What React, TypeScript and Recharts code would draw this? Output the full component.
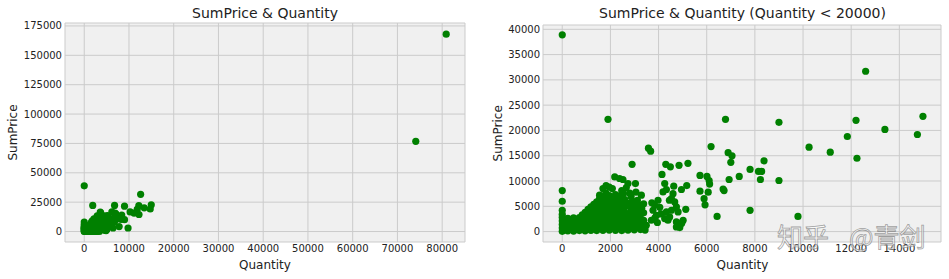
import { ScatterChart, Scatter, XAxis, YAxis, CartesianGrid } from 'recharts'

type Row = [number, number]

// [Quantity, SumPrice] pairs, grouped by area of the cloud
const zeroQuantity: Row[] = [
  [0, 50], [0, 700], [0, 1400], [0, 2100], [0, 2800], [0, 3400], [0, 4200], [0, 6000], [0, 8100], [0, 38900],
]

const lowQuantity: Row[] = [
  [110, 350], [110, 1250], [110, 2150],
  [230, 150], [230, 900], [230, 1800], [230, 2600],
  [350, 500], [350, 1400], [350, 2300],
  [470, 100], [470, 950], [470, 1850], [470, 2700],
  [590, 450], [590, 1350], [590, 2250],
  [710, 200], [710, 1000], [710, 1900], [710, 2750],
  [830, 550], [830, 1450], [830, 2350], [830, 3300],
  [950, 150], [950, 1050], [950, 1950], [950, 2900], [950, 3800],
  [1070, 600], [1070, 1500], [1070, 2400], [1070, 3400], [1070, 4400],
  [1190, 250], [1190, 1100], [1190, 2000], [1190, 2950], [1190, 3900], [1190, 4900],
  [1310, 650], [1310, 1550], [1310, 2500], [1310, 3450], [1310, 4400], [1310, 5400],
  [1430, 200], [1430, 1100], [1430, 2050], [1430, 3000], [1430, 3950], [1430, 4950], [1430, 5900],
]

const midQuantity: Row[] = [
  [1550, 700], [1550, 1600], [1550, 2550], [1550, 3500], [1550, 4500], [1550, 5500], [1550, 6500], [1550, 7200],
  [1690, 250], [1690, 1150], [1690, 2100], [1690, 3050], [1690, 4050], [1690, 5050], [1690, 6000], [1690, 7000], [1690, 8500],
  [1820, 700], [1820, 1650], [1820, 2600], [1820, 3600], [1820, 4600], [1820, 5600], [1820, 6600], [1820, 7600], [1820, 9100],
  [1950, 300], [1950, 1200], [1950, 2150], [1950, 3100], [1950, 4100], [1950, 5100], [1950, 6100], [1950, 7100], [1950, 8800],
  [2080, 750], [2080, 1700], [2080, 2650], [2080, 3650], [2080, 4650], [2080, 5650], [2080, 6700], [2080, 8500],
  [2180, 10800],
  [2210, 250], [2210, 1250], [2210, 2200], [2210, 3150], [2210, 4150], [2210, 5200], [2210, 6200], [2210, 7300],
  [2340, 700], [2340, 1650], [2340, 2700], [2340, 3700], [2340, 4700], [2340, 5800], [2340, 7000], [2380, 10500],
  [2400, 6400], [2470, 200], [2470, 1200], [2470, 2200], [2470, 3200], [2470, 4300], [2470, 5400], [2470, 8100],
  [2520, 10300], [2540, 7500],
  [2600, 700], [2600, 1700], [2600, 2700], [2600, 3800], [2600, 4900], [2600, 6300], [2660, 8700],
  [2730, 300], [2730, 1250], [2730, 2300], [2730, 3400], [2730, 5600], [2730, 9500],
  [2800, 5000], [2800, 7600], [2860, 800], [2860, 1800], [2860, 2900], [2860, 4200], [2860, 6900],
  [2900, 13300], [2920, 6000],
  [2990, 350], [2990, 1300], [2990, 2400], [2990, 3500], [2990, 5000], [3000, 4300], [3040, 9500], [3060, 7800],
  [3120, 900], [3120, 2000], [3120, 3000], [3120, 4400], [3120, 6200],
  [3180, 5300], [3200, 3500], [3250, 400], [3250, 1500], [3250, 2600], [3285, 7200], [3300, 4600],
  [3380, 1000], [3380, 2200], [3380, 3700], [3380, 5500], [3440, 300],
]

const spreadQuantity: Row[] = [
  [3490, 1250], [3580, 16500], [3670, 15900], [3700, 2240], [3720, 5700], [3768, 4220], [3838, 5200],
  [3850, 2700], [3910, 3230], [3950, 1800], [3976, 6200], [4050, 4800], [4100, 3500], [4142, 11300],
  [4185, 7840], [4255, 9500], [4255, 2570], [4300, 13300], [4325, 8320], [4325, 3880], [4390, 2240],
  [4450, 6200], [4460, 2900], [4490, 12800], [4533, 6530], [4533, 4220], [4600, 7500], [4630, 8970],
  [4670, 5860], [4740, 4870], [4740, 1900], [4740, 910], [4810, 3880], [4850, 13100], [4880, 790],
  [4950, 8320], [4950, 1580], [4970, 1800], [5020, 2240], [5130, 4400], [5170, 9100], [5220, 13500],
]

const highQuantity: Row[] = [
  [1900, 22200], [5720, 11100], [6010, 10900], [6100, 10100], [6120, 9400], [5720, 8000], [6060, 7800],
  [5890, 6500], [5930, 5300], [6180, 16800], [6430, 3000], [6680, 8400], [6720, 8100], [6780, 22200],
  [6890, 15600], [7050, 15000], [7000, 13700], [6930, 10300], [7350, 10900], [7800, 12300], [7800, 4200],
  [8150, 11900], [8280, 11900], [8230, 10300], [8380, 14000], [9000, 21600], [9000, 10100], [9790, 3000],
  [10250, 16700], [11130, 15700], [11840, 18800], [12200, 22000], [12240, 14500], [12600, 31700],
  [13400, 20200], [14750, 19200], [14980, 22800],
]

const outliers: Row[] = [
  [74100, 76800], [80900, 168000],
]

const leftXTicks = [0, 10000, 20000, 30000, 40000, 50000, 60000, 70000, 80000]
const leftYTicks = [0, 25000, 50000, 75000, 100000, 125000, 150000, 175000]
const rightXTicks = [0, 2000, 4000, 6000, 8000, 10000, 12000, 14000]
const rightYTicks = [0, 5000, 10000, 15000, 20000, 25000, 30000, 35000, 40000]

const allPoints = [...zeroQuantity, ...lowQuantity, ...midQuantity, ...spreadQuantity, ...highQuantity, ...outliers]
  .map(([q, p]) => ({ q, p }))
const smallPoints = allPoints.filter(d => d.q < 20000)

const FONT = '"DejaVu Sans", sans-serif'
const GREEN = '#008000'
const TEXT = '#222'

function Dot(props: { cx?: number; cy?: number }) {
  if (props.cx == null || props.cy == null) return null
  return <circle cx={props.cx} cy={props.cy} r={3.6} fill={GREEN} />
}

interface PanelProps {
  data: { q: number; p: number }[]
  xDomain: [number, number]
  yDomain: [number, number]
  xTicks: number[]
  yTicks: number[]
  width: number
  yAxisWidth: number
  top: number
  right: number
}

function Panel({ data, xDomain, yDomain, xTicks, yTicks, width, yAxisWidth, top, right }: PanelProps) {
  const tick = { fill: TEXT, fontSize: 10, fontFamily: FONT }
  return (
    <ScatterChart width={width} height={279} margin={{ top, right, bottom: 0, left: 0 }}>
      <CartesianGrid stroke="#cbcbcb" strokeWidth={1} fill="#f0f0f0" fillOpacity={1} />
      <XAxis type="number" dataKey="q" domain={xDomain} ticks={xTicks} interval={0} allowDataOverflow
        tick={tick} tickLine={false} axisLine={false} tickSize={0} tickMargin={3} height={37} />
      <YAxis type="number" dataKey="p" domain={yDomain} ticks={yTicks} interval={0} allowDataOverflow
        tick={tick} tickLine={false} axisLine={false} tickSize={0} tickMargin={3} width={yAxisWidth} />
      <Scatter data={data} isAnimationActive={false} shape={(p: { cx?: number; cy?: number }) => <Dot cx={p.cx} cy={p.cy} />} />
    </ScatterChart>
  )
}

export default function App() {
  return (
    <div style={{ position: 'absolute', left: 0, top: 0, width: 949, height: 279, background: '#fff', overflow: 'hidden' }}>
      <div style={{ position: 'absolute', left: 0, top: 0 }}>
        <Panel data={allPoints} xDomain={[-4300, 85100]} yDomain={[-8900, 177500]}
          xTicks={leftXTicks} yTicks={leftYTicks} width={475} yAxisWidth={65} top={23} right={10} />
      </div>
      <div style={{ position: 'absolute', left: 475, top: 0 }}>
        <Panel data={smallPoints} xDomain={[-800, 15730]} yDomain={[-2060, 40850]}
          xTicks={rightXTicks} yTicks={rightYTicks} width={474} yAxisWidth={68} top={25} right={8} />
      </div>
      <svg width={949} height={279} style={{ position: 'absolute', left: 0, top: 0, pointerEvents: 'none' }}>
        <g fontFamily={FONT} fill={TEXT}>
          <text x={265} y={17.7} fontSize={14} textAnchor="middle">SumPrice &amp; Quantity</text>
          <text x={742.5} y={17.7} fontSize={14} textAnchor="middle">SumPrice &amp; Quantity (Quantity &lt; 20000)</text>
          <text x={265} y={268.7} fontSize={12} textAnchor="middle">Quantity</text>
          <text x={742.5} y={268.7} fontSize={12} textAnchor="middle">Quantity</text>
          <text x={17} y={132.5} fontSize={12} textAnchor="middle" transform="rotate(-90 17 132.5)">SumPrice</text>
          <text x={502} y={133.3} fontSize={12} textAnchor="middle" transform="rotate(-90 502 133.3)">SumPrice</text>
        </g>
        <g fontFamily='"Noto Sans CJK SC", sans-serif' fontSize={26} fill="rgba(255,255,255,0.6)" stroke="rgba(130,130,130,0.75)" strokeWidth={0.8}>
          <text x={777} y={247}>知乎</text>
          <text x={849} y={247}>@青剑</text>
        </g>
      </svg>
    </div>
  )
}
